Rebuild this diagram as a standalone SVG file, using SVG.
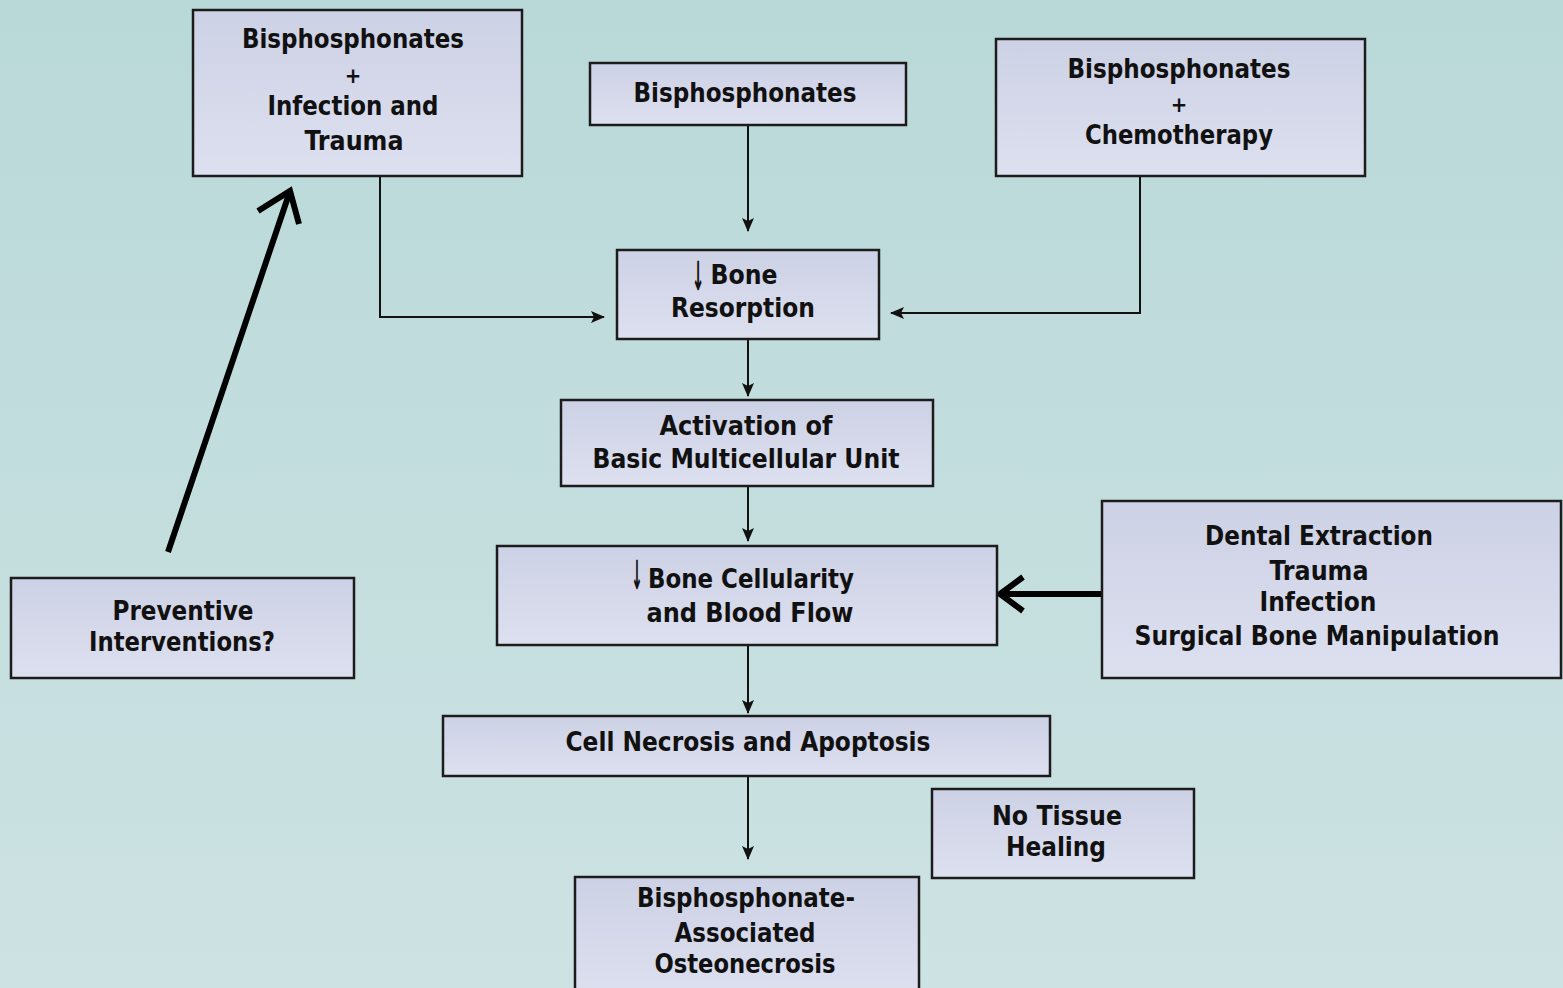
<svg xmlns="http://www.w3.org/2000/svg" width="1563" height="988" viewBox="0 0 1563 988">
  <defs>
    <linearGradient id="bg" x1="0" y1="0" x2="0" y2="1">
      <stop offset="0" stop-color="#b9d9d8"/>
      <stop offset="1" stop-color="#cde2e3"/>
    </linearGradient>
    <linearGradient id="boxfill" x1="0" y1="0" x2="0" y2="1">
      <stop offset="0" stop-color="#cdd1e5"/>
      <stop offset="1" stop-color="#dde0ef"/>
    </linearGradient>
    <marker id="tri" viewBox="0 0 14 12" refX="13" refY="6" markerWidth="14" markerHeight="12" markerUnits="userSpaceOnUse" orient="auto">
      <path d="M0,0 L14,6 L0,12 L3,6 Z" fill="#111"/>
    </marker>
    <style>
      .box { fill: url(#boxfill); stroke: #1c1c1c; stroke-width: 2.5; }
      .lbl { font-family: "DejaVu Sans Condensed", "DejaVu Sans", sans-serif; font-weight: bold; font-size: 26px; fill: #111; text-anchor: middle; }
      .plus { font-family: "DejaVu Sans Condensed", "DejaVu Sans", sans-serif; font-weight: bold; font-size: 22px; fill: #111; text-anchor: middle; }
      .down { font-family: "DejaVu Sans", sans-serif; font-weight: bold; font-size: 40px; fill: #111; text-anchor: middle; }
      .thin { fill: none; stroke: #111; stroke-width: 2; marker-end: url(#tri); }
      .thick { fill: none; stroke: #000; stroke-width: 6; stroke-linecap: butt; }
    </style>
  </defs>

  <rect x="0" y="0" width="1563" height="988" fill="url(#bg)"/>

  <!-- connectors -->
  <g id="connectors">
    <line class="thin" x1="748" y1="126" x2="748" y2="231"/>
    <polyline class="thin" points="380,177 380,317 604,317"/>
    <polyline class="thin" points="1140,177 1140,313 891,313"/>
    <line class="thin" x1="748" y1="340" x2="748" y2="396"/>
    <line class="thin" x1="748" y1="487" x2="748" y2="541"/>
    <line class="thin" x1="748" y1="646" x2="748" y2="713"/>
    <line class="thin" x1="748" y1="777" x2="748" y2="859"/>
    <!-- heavy arrow from contributing factors -->
    <line class="thick" x1="1103" y1="594" x2="1002" y2="594"/>
    <polyline class="thick" points="1023,577 1000,594 1023,611" stroke-linejoin="miter"/>
    <!-- heavy arrow from preventive interventions -->
    <line class="thick" x1="168" y1="552" x2="289" y2="194"/>
    <polyline class="thick" points="258,211 290,191 299,224" stroke-linejoin="miter" stroke-width="5"/>
  </g>

  <g id="bp-infection-trauma">
    <rect class="box" x="193" y="10" width="329" height="166"/>
    <text class="lbl" x="353" y="48" textLength="222" lengthAdjust="spacingAndGlyphs">Bisphosphonates</text>
    <text class="plus" x="353" y="83">+</text>
    <text class="lbl" x="353" y="115" textLength="171" lengthAdjust="spacingAndGlyphs">Infection and</text>
    <text class="lbl" x="354" y="150" textLength="99" lengthAdjust="spacingAndGlyphs">Trauma</text>
  </g>

  <g id="bp">
    <rect class="box" x="590" y="63" width="316" height="62"/>
    <text class="lbl" x="745" y="102" textLength="223" lengthAdjust="spacingAndGlyphs">Bisphosphonates</text>
  </g>

  <g id="bp-chemo">
    <rect class="box" x="996" y="39" width="369" height="137"/>
    <text class="lbl" x="1179" y="78" textLength="223" lengthAdjust="spacingAndGlyphs">Bisphosphonates</text>
    <text class="plus" x="1179" y="112">+</text>
    <text class="lbl" x="1179" y="144" textLength="188" lengthAdjust="spacingAndGlyphs">Chemotherapy</text>
  </g>

  <g id="bone-resorption">
    <rect class="box" x="617" y="250" width="262" height="89"/>
    <text class="down" transform="translate(698,290) scale(0.38,1)">↓</text>
    <text class="lbl" x="744" y="284" textLength="67" lengthAdjust="spacingAndGlyphs">Bone</text>
    <text class="lbl" x="743" y="317" textLength="144" lengthAdjust="spacingAndGlyphs">Resorption</text>
  </g>

  <g id="bmu">
    <rect class="box" x="561" y="400" width="372" height="86"/>
    <text class="lbl" x="746" y="435" textLength="173" lengthAdjust="spacingAndGlyphs">Activation of</text>
    <text class="lbl" x="746" y="468" textLength="307" lengthAdjust="spacingAndGlyphs">Basic Multicellular Unit</text>
  </g>

  <g id="cellularity">
    <rect class="box" x="497" y="546" width="500" height="99"/>
    <text class="down" transform="translate(637,589) scale(0.34,1)">↓</text>
    <text class="lbl" x="751" y="588" textLength="206" lengthAdjust="spacingAndGlyphs">Bone Cellularity</text>
    <text class="lbl" x="750" y="622" textLength="207" lengthAdjust="spacingAndGlyphs">and Blood Flow</text>
  </g>

  <g id="local-factors">
    <rect class="box" x="1102" y="501" width="459" height="177"/>
    <text class="lbl" x="1319" y="545" textLength="228" lengthAdjust="spacingAndGlyphs">Dental Extraction</text>
    <text class="lbl" x="1319" y="580" textLength="99" lengthAdjust="spacingAndGlyphs">Trauma</text>
    <text class="lbl" x="1318" y="611" textLength="117" lengthAdjust="spacingAndGlyphs">Infection</text>
    <text class="lbl" x="1317" y="645" textLength="365" lengthAdjust="spacingAndGlyphs">Surgical Bone Manipulation</text>
  </g>

  <g id="preventive">
    <rect class="box" x="11" y="578" width="343" height="100"/>
    <text class="lbl" x="183" y="620" textLength="141" lengthAdjust="spacingAndGlyphs">Preventive</text>
    <text class="lbl" x="182" y="651" textLength="186" lengthAdjust="spacingAndGlyphs">Interventions?</text>
  </g>

  <g id="necrosis">
    <rect class="box" x="443" y="716" width="607" height="60"/>
    <text class="lbl" x="748" y="751" textLength="365" lengthAdjust="spacingAndGlyphs">Cell Necrosis and Apoptosis</text>
  </g>

  <g id="no-healing">
    <rect class="box" x="932" y="789" width="262" height="89"/>
    <text class="lbl" x="1057" y="825" textLength="130" lengthAdjust="spacingAndGlyphs">No Tissue</text>
    <text class="lbl" x="1056" y="856" textLength="100" lengthAdjust="spacingAndGlyphs">Healing</text>
  </g>

  <g id="bron">
    <rect class="box" x="575" y="877" width="344" height="120"/>
    <text class="lbl" x="746" y="907" textLength="218" lengthAdjust="spacingAndGlyphs">Bisphosphonate-</text>
    <text class="lbl" x="745" y="942" textLength="141" lengthAdjust="spacingAndGlyphs">Associated</text>
    <text class="lbl" x="745" y="973" textLength="181" lengthAdjust="spacingAndGlyphs">Osteonecrosis</text>
  </g>
</svg>
